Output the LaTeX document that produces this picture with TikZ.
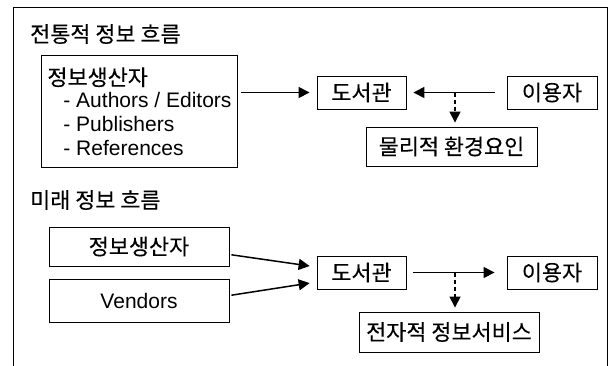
\documentclass[tikz,border=0pt]{standalone}
\usepackage{fontspec}
\setmainfont{Liberation Sans}
\newfontfamily\kr[Scale=1.04,FakeBold=0.2]{Noto Sans CJK KR}
\usetikzlibrary{arrows.meta,calc}
\begin{document}
\begin{tikzpicture}[x=1pt,y=-1pt,
  every node/.style={font=\fontsize{21}{24}\selectfont},
  box/.style={draw,line width=0.9pt,inner sep=0pt},
  arr/.style={line width=1.5pt,-{Triangle[length=11pt,width=11pt]}},
  darr/.style={line width=1.5pt,dash pattern=on 4pt off 3pt,-{Triangle[length=11pt,width=11pt]}}]
\useasboundingbox (0,0) rectangle (613,365);
\draw[line width=0.9pt] (13,366) -- (13,7) -- (607,7) -- (607,366);
% traditional
\node[anchor=west,inner sep=0pt] (t1) at (30,34) {\kr 전통적 정보 흐름};
\node[box,anchor=north west,minimum width=196pt,minimum height=112pt,align=left] (p1) at (41,55)
  {{\kr 정보생산자}\\[-2pt]\hspace{16pt}- Authors / Editors\\\hspace{16pt}- Publishers\\\hspace{16pt}- References};
\node[box,minimum width=89pt,minimum height=33pt] (lib1) at (361.5,92.5) {\kr 도서관};
\node[box,minimum width=90pt,minimum height=33pt] (user1) at (552,92.5) {\kr 이용자};
\node[box,minimum width=171pt,minimum height=39pt] (phys1) at (451.5,146.5) {\kr 물리적 환경요인};
\draw[arr,shorten <=3pt,shorten >=7pt] (p1.east |- lib1.west) -- (lib1.west);
\draw[arr,shorten <=12pt,shorten >=7pt] (user1.west) -- (lib1.east);
\coordinate (j1) at (455,92.5);
\draw[darr,shorten >=4pt] (j1) -- (j1 |- phys1.north);
% future
\node[anchor=west,inner sep=0pt] (t2) at (30,200) {\kr 미래 정보 흐름};
\node[box,minimum width=180pt,minimum height=39pt] (p2) at (139,246.5) {\kr 정보생산자};
\node[box,minimum width=180pt,minimum height=43pt] (v2) at (139,300.5) {Vendors};
\node[box,minimum width=89pt,minimum height=33pt] (lib2) at (361.5,272.5) {\kr 도서관};
\node[box,minimum width=90pt,minimum height=33pt] (user2) at (552,272.5) {\kr 이용자};
\node[box,minimum width=180pt,minimum height=40pt] (elec2) at (449,332) {\kr 전자적 정보서비스};
\draw[arr,shorten <=2pt,shorten >=7pt] ([yshift=-8pt]p2.east) -- ([yshift=5.5pt]lib2.west);
\draw[arr,shorten <=2pt,shorten >=7pt] ([yshift=5pt]v2.east) -- ([yshift=-9.5pt]lib2.west);
\draw[arr,shorten <=7pt,shorten >=12pt] (lib2.east) -- (user2.west);
\coordinate (j2) at (455,272.5);
\draw[darr,shorten >=4pt] (j2) -- (j2 |- elec2.north);
\end{tikzpicture}
\end{document}
